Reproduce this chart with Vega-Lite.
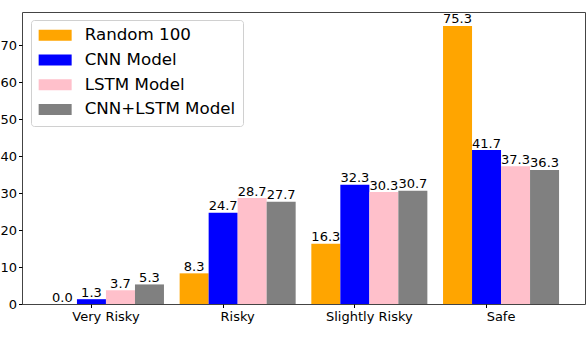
{
  "$schema": "https://vega.github.io/schema/vega-lite/v6.json",
  "width": 563,
  "height": 292,
  "autosize": {"type": "none"},
  "padding": {"left": 22, "top": 12, "right": 1, "bottom": 36},
  "background": "white",
  "config": {
    "font": "DejaVu Sans",
    "view": {"stroke": "#444", "strokeWidth": 1}
  },
  "data": {
    "values": [
      {"cat": "Very Risky", "model": "Random 100", "v": 0.0},
      {"cat": "Very Risky", "model": "CNN Model", "v": 1.3},
      {"cat": "Very Risky", "model": "LSTM Model", "v": 3.7},
      {"cat": "Very Risky", "model": "CNN+LSTM Model", "v": 5.3},
      {"cat": "Risky", "model": "Random 100", "v": 8.3},
      {"cat": "Risky", "model": "CNN Model", "v": 24.7},
      {"cat": "Risky", "model": "LSTM Model", "v": 28.7},
      {"cat": "Risky", "model": "CNN+LSTM Model", "v": 27.7},
      {"cat": "Slightly Risky", "model": "Random 100", "v": 16.3},
      {"cat": "Slightly Risky", "model": "CNN Model", "v": 32.3},
      {"cat": "Slightly Risky", "model": "LSTM Model", "v": 30.3},
      {"cat": "Slightly Risky", "model": "CNN+LSTM Model", "v": 30.7},
      {"cat": "Safe", "model": "Random 100", "v": 75.3},
      {"cat": "Safe", "model": "CNN Model", "v": 41.7},
      {"cat": "Safe", "model": "LSTM Model", "v": 37.3},
      {"cat": "Safe", "model": "CNN+LSTM Model", "v": 36.3}
    ]
  },
  "encoding": {
    "x": {
      "field": "cat", "type": "nominal",
      "sort": ["Very Risky", "Risky", "Slightly Risky", "Safe"],
      "scale": {"paddingInner": 0.119, "paddingOuter": 0.197},
      "axis": {
        "title": null, "labelAngle": 0, "labelFontSize": 13, "labelColor": "black",
        "tickColor": "black", "tickSize": 3.5, "domain": false, "labelPadding": 3,
        "bandPosition": 0.375
      }
    },
    "xOffset": {
      "field": "model", "type": "nominal",
      "sort": ["Random 100", "CNN Model", "LSTM Model", "CNN+LSTM Model"],
      "scale": {"paddingInner": 0, "paddingOuter": 0}
    },
    "y": {
      "field": "v", "type": "quantitative",
      "scale": {"domain": [0, 79.07], "nice": false},
      "axis": {
        "title": null, "values": [0, 10, 20, 30, 40, 50, 60, 70], "grid": false,
        "labelFontSize": 13, "labelColor": "black", "tickColor": "black",
        "tickSize": 3.5, "domain": false, "labelPadding": 2
      }
    }
  },
  "layer": [
    {
      "mark": {"type": "bar"},
      "encoding": {
        "color": {
          "field": "model", "type": "nominal",
          "sort": ["Random 100", "CNN Model", "LSTM Model", "CNN+LSTM Model"],
          "scale": {
            "domain": ["Random 100", "CNN Model", "LSTM Model", "CNN+LSTM Model"],
            "range": ["#FFA500", "#0000FF", "#FFC0CB", "#808080"]
          },
          "legend": {
            "title": null, "orient": "none", "legendX": 9, "legendY": 8,
            "labelFontSize": 16.7, "labelColor": "black", "labelOffset": 30,
            "symbolType": "M-1.4,-1H4.6V1H-1.4Z", "symbolSize": 121,
            "symbolStrokeWidth": 0, "symbolOpacity": 1, "rowPadding": 6.7,
            "padding": 7, "strokeColor": "#d0d0d0", "fillColor": "rgba(255,255,255,0.85)",
            "cornerRadius": 3
          }
        }
      }
    },
    {
      "mark": {"type": "text", "baseline": "alphabetic", "dy": -2.5, "fontSize": 13, "color": "black"},
      "encoding": {
        "text": {"field": "v", "type": "quantitative", "format": ".1f"}
      }
    }
  ]
}
